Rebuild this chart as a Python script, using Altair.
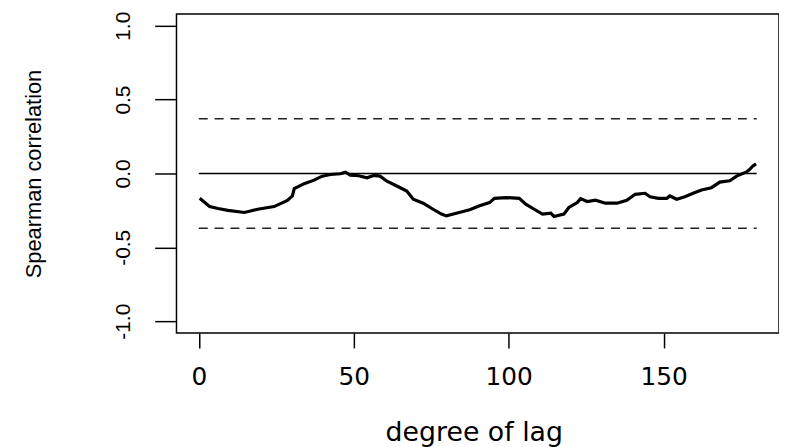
import altair as alt
import pandas as pd

# Spearman correlation vs degree of lag
lag = [0.3, 3.5, 6.2, 9.4, 14.7, 19.0, 24.3, 28.6, 30.2, 30.8, 34.0, 37.2, 39.8,
       42.5, 45.7, 47.3, 48.9, 51.6, 54.3, 56.4, 58.5, 60.7, 63.9, 67.1, 69.2,
       72.4, 75.6, 78.3, 79.9, 83.1, 87.4, 90.6, 93.8, 95.4, 99.1, 103.4, 105.5,
       108.2, 110.9, 113.6, 114.6, 117.8, 119.4, 122.1, 123.2, 125.3, 128.0,
       131.2, 134.9, 138.1, 140.8, 144.0, 145.6, 148.3, 151.0, 152.0, 154.2,
       156.8, 159.5, 162.2, 165.4, 168.1, 171.3, 173.9, 176.6, 177.7, 178.7, 179.8]
rho = [-0.168, -0.224, -0.237, -0.250, -0.264, -0.242, -0.224, -0.183, -0.152,
       -0.103, -0.069, -0.045, -0.018, -0.007, -0.002, 0.009, -0.011, -0.015,
       -0.029, -0.013, -0.018, -0.052, -0.085, -0.119, -0.174, -0.201, -0.242,
       -0.275, -0.287, -0.269, -0.246, -0.219, -0.197, -0.168, -0.163, -0.168,
       -0.208, -0.242, -0.275, -0.268, -0.291, -0.275, -0.230, -0.197, -0.170,
       -0.190, -0.181, -0.201, -0.201, -0.181, -0.141, -0.134, -0.157, -0.168,
       -0.168, -0.152, -0.174, -0.157, -0.134, -0.112, -0.096, -0.058, -0.049,
       -0.013, 0.009, 0.027, 0.049, 0.065]

ref_start = [0, 0, 0]
ref_end = [180, 180, 180]
ref_value = [0.37, -0.37, 0.0]
ref_kind = ["dashed", "dashed", "solid"]

x_ticks = [0, 50, 100, 150]
y_ticks = [-1.0, -0.5, 0.0, 0.5, 1.0]

line_df = pd.DataFrame({"lag": lag, "rho": rho})
ref_df = pd.DataFrame({"x0": ref_start, "x1": ref_end, "y": ref_value, "kind": ref_kind})

xscale = alt.Scale(domain=[-7.2, 187.2], nice=False, zero=False)
yscale = alt.Scale(domain=[-1.08, 1.08], nice=False, zero=False)

xaxis = alt.Axis(
    values=x_ticks, title="degree of lag", grid=False, domain=False,
    ticks=True, tickSize=15, tickColor="black", tickWidth=1.5,
    labelFont="DejaVu Sans", labelFontSize=25, labelColor="black",
    labelBaseline="alphabetic", labelPadding=37, labelFlush=False,
    titleFont="DejaVu Sans", titleFontSize=27, titleFontWeight="normal",
    titleColor="black", titleBaseline="alphabetic", titleY=108.5, titleX=300,
)
yaxis = alt.Axis(
    values=y_ticks, title="Spearman correlation", grid=False, domain=False,
    ticks=True, tickSize=22, tickColor="black", tickWidth=1.5,
    labelFont="Liberation Sans", labelFontSize=21, labelColor="black",
    labelAngle=-90, labelAlign="center", labelBaseline="alphabetic",
    labelPadding=25, labelFlush=False,
    labelExpr="datum.value == 0 ? '0.0' : (datum.value < 0 ? '-' + format(-datum.value, '.1f') : format(datum.value, '.1f'))",
    titleFont="Liberation Sans", titleFontSize=22, titleFontWeight="normal",
    titleColor="black", titleAngle=-90, titleAlign="center",
    titleBaseline="alphabetic", titleX=-137, titleY=161,
)

line = alt.Chart(line_df).mark_line(color="black", strokeWidth=3.2).encode(
    x=alt.X("lag:Q", scale=xscale, axis=xaxis),
    y=alt.Y("rho:Q", scale=yscale, axis=yaxis),
)

dashed = alt.Chart(ref_df).transform_filter("datum.kind == 'dashed'").mark_rule(
    color="#222", strokeWidth=1.5, strokeDash=[9, 7]
).encode(x=alt.X("x0:Q", scale=xscale), x2="x1:Q", y=alt.Y("y:Q", scale=yscale))

solid = alt.Chart(ref_df).transform_filter("datum.kind == 'solid'").mark_rule(
    color="black", strokeWidth=1.5
).encode(x=alt.X("x0:Q", scale=xscale), x2="x1:Q", y=alt.Y("y:Q", scale=yscale))

chart = alt.layer(dashed, solid, line).properties(
    width=608, height=322,
    autosize=alt.AutoSizeParams(type="none"),
    padding={"left": 170, "top": 4, "right": 0, "bottom": 113},
    background="white",
).configure_view(stroke="black", strokeWidth=1.5)

chart.save("out.html", embed_options={"renderer": "svg", "actions": False})
